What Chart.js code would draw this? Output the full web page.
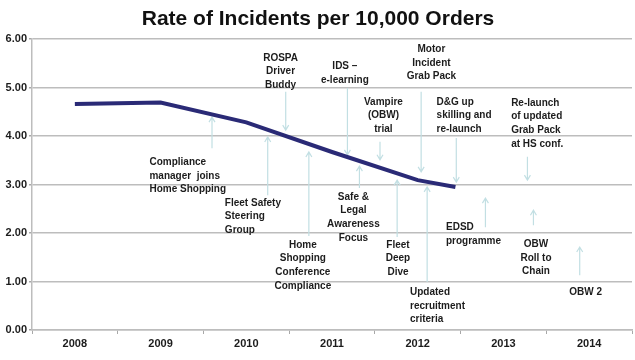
<!DOCTYPE html>
<html>
<head>
<meta charset="utf-8">
<style>
  html, body { margin: 0; padding: 0; background: #fff; }
  #wrap { width: 635px; height: 360px; }
</style>
<script src="https://cdn.jsdelivr.net/npm/chart.js@4.4.0/dist/chart.umd.min.js"></script>
</head>
<body>
<div id="wrap"><canvas id="chart" width="635" height="360"></canvas></div>
<script>
// ── Data ───────────────────────────────────────────────────────
const chartTitle = 'Rate of Incidents per 10,000 Orders';
const years = [2008, 2009, 2010, 2011, 2012, 2013, 2014];
const yTicks = [0, 1, 2, 3, 4, 5, 6];
// the last reading sits part-way through 2012 (year to date)
const pointYears = [2008, 2009, 2010, 2011, 2012, 2012.44];
const rates = [4.66, 4.69, 4.28, 3.67, 3.09, 2.95];

// ── Annotations (x in years, y in rate units) ──────────────────
// arrow: [x, fromY, toY] – head drawn at toY
const notes = [
  { text: ['Compliance', 'manager  joins', 'Home Shopping'], x: 2008.87, y: 3.46, align: 'left', arrow: [2009.60, 3.75, 4.39] },
  { text: ['Fleet Safety', 'Steering', 'Group'], x: 2009.75, y: 2.62, align: 'left', arrow: [2010.25, 2.78, 3.98] },
  { text: ['ROSPA', 'Driver', 'Buddy'], x: 2010.40, y: 5.61, align: 'center', arrow: [2010.46, 4.91, 4.12] },
  { text: ['Home', 'Shopping', 'Conference', 'Compliance'], x: 2010.66, y: 1.75, align: 'center', arrow: [2010.73, 1.94, 3.67] },
  { text: ['IDS \u2013', 'e-learning'], x: 2011.15, y: 5.44, align: 'center', arrow: [2011.18, 4.99, 3.61] },
  { text: ['Safe &', 'Legal', 'Awareness', 'Focus'], x: 2011.25, y: 2.74, align: 'center', arrow: [2011.32, 2.93, 3.38] },
  { text: ['Vampire', '(OBW)', 'trial'], x: 2011.60, y: 4.70, align: 'center', arrow: [2011.56, 3.88, 3.51] },
  { text: ['Motor', 'Incident', 'Grab Pack'], x: 2012.16, y: 5.79, align: 'center', arrow: [2012.04, 4.91, 3.26] },
  { text: ['Fleet', 'Deep', 'Dive'], x: 2011.77, y: 1.75, align: 'center', arrow: [2011.76, 1.92, 3.09] },
  { text: ['D&G up', 'skilling and', 're-launch'], x: 2012.22, y: 4.70, align: 'left', arrow: [2012.45, 3.96, 3.05] },
  { text: ['Updated', 'recruitment', 'criteria'], x: 2011.91, y: 0.78, align: 'left', arrow: [2012.11, 0.99, 2.95] },
  { text: ['Re-launch', 'of updated', 'Grab Pack', 'at HS conf.'], x: 2013.09, y: 4.68, align: 'left', arrow: [2013.28, 3.57, 3.09] },
  { text: ['EDSD', 'programme'], x: 2012.33, y: 2.12, align: 'left', arrow: [2012.79, 2.12, 2.72] },
  { text: ['OBW', 'Roll to', 'Chain'], x: 2013.38, y: 1.77, align: 'center', arrow: [2013.35, 2.16, 2.47] },
  { text: ['OBW 2'], x: 2013.96, y: 0.78, align: 'center', arrow: [2013.89, 1.13, 1.71] },
];

// ── Style ──────────────────────────────────────────────────────
const FONT = "'Liberation Sans', Arial, sans-serif";
const TEXT = '#1c1c1c';
const GRID = '#bdbdbd';
const ARROW = '#c2dfe3';
const LINE = '#2a2a76';

Chart.defaults.font.family = FONT;

// arrows under the line, texts and title on top
const notesPlugin = {
  id: 'notes',
  beforeDatasetsDraw(chart) {
    const { ctx, scales: { x, y } } = chart;
    ctx.save();
    ctx.strokeStyle = ARROW;
    ctx.lineWidth = 1.2;
    notes.forEach(n => {
      const px = x.getPixelForValue(n.arrow[0]);
      const y0 = y.getPixelForValue(n.arrow[1]);
      const y1 = y.getPixelForValue(n.arrow[2]);
      const dir = y1 < y0 ? 1 : -1;
      ctx.beginPath();
      ctx.moveTo(px, y0);
      ctx.lineTo(px, y1);
      ctx.moveTo(px - 3, y1 + dir * 5);
      ctx.lineTo(px, y1);
      ctx.lineTo(px + 3, y1 + dir * 5);
      ctx.stroke();
    });
    ctx.restore();
  },
  afterDraw(chart) {
    const { ctx, scales: { x, y } } = chart;
    ctx.save();
    ctx.fillStyle = TEXT;
    ctx.textBaseline = 'middle';
    ctx.font = 'bold 10px ' + FONT;
    notes.forEach(n => {
      const px = x.getPixelForValue(n.x);
      const py = y.getPixelForValue(n.y);
      ctx.textAlign = n.align;
      n.text.forEach((line, i) => ctx.fillText(line, px, py + i * 13.6));
    });
    ctx.font = 'bold 21px ' + FONT;
    ctx.textAlign = 'center';
    ctx.fillStyle = '#111';
    ctx.fillText(chartTitle, 318, 19);
    ctx.restore();
  },
};

// ── Chart ──────────────────────────────────────────────────────
new Chart(document.getElementById('chart').getContext('2d'), {
  type: 'line',
  data: {
    datasets: [{
      data: pointYears.map((yr, i) => ({ x: yr, y: rates[i] })),
      borderColor: LINE,
      borderWidth: 4,
      pointRadius: 0,
      tension: 0,
      fill: false,
    }],
  },
  options: {
    responsive: false,
    animation: false,
    layout: { padding: { top: 39, right: 2, left: 0, bottom: 0 } },
    plugins: { legend: { display: false }, tooltip: { enabled: false }, title: { display: false } },
    scales: {
      x: {
        type: 'linear',
        min: years[0] - 0.5,
        max: years[years.length - 1] + 0.5,
        afterBuildTicks: scale => {
          const t = [];
          years.forEach(yr => { t.push({ value: yr - 0.5 }); t.push({ value: yr }); });
          t.push({ value: years[years.length - 1] + 0.5 });
          scale.ticks = t;
        },
        afterFit: scale => { scale.height = 30; },
        ticks: {
          autoSkip: false,
          maxRotation: 0,
          padding: 3,
          color: TEXT,
          font: { size: 11, weight: 'bold' },
          callback: v => Number.isInteger(v) ? String(v) : '',
        },
        grid: {
          drawOnChartArea: false,
          tickLength: 4,
          tickColor: c => Number.isInteger(c.tick.value) ? 'rgba(0,0,0,0)' : '#a8a8a8',
        },
        border: { color: GRID, width: 1.5 },
      },
      y: {
        min: 0,
        max: 6,
        afterBuildTicks: scale => { scale.ticks = yTicks.map(v => ({ value: v })); },
        afterFit: scale => { scale.width = 32; },
        ticks: {
          padding: 2,
          color: TEXT,
          font: { size: 11, weight: 'bold' },
          callback: v => v.toFixed(2),
        },
        grid: { color: GRID, lineWidth: 1.5, tickLength: 3, tickColor: '#a8a8a8' },
        border: { color: GRID, width: 1.5 },
      },
    },
  },
  plugins: [notesPlugin],
});
</script>
</body>
</html>
